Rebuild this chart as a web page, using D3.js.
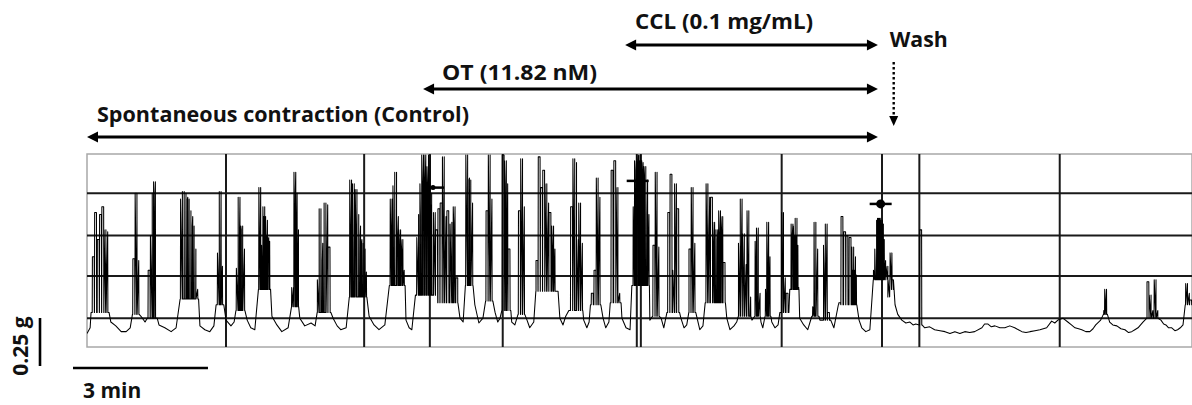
<!DOCTYPE html>
<html>
<head>
<meta charset="utf-8">
<script src="https://cdn.jsdelivr.net/npm/d3@7"></script>
<style>
  body { margin: 0; background: #fff; }
  text { font-family: "Open Sans", sans-serif; font-weight: bold; fill: #111; }
</style>
</head>
<body>
<div class="container"></div>
<script>
// time in minutes, force in g

// resting tension between contractions [t, g]
let baseline = [
  [0, 0.07], [0.07, 0.10], [0.53, 0.13], [0.64, 0.11], [0.76, 0.08], [0.87, 0.08], [0.96, 0.10],
  [1.20, 0.16], [1.29, 0.13], [1.60, 0.115], [1.73, 0.10], [1.87, 0.08], [1.98, 0.10],
  [2.51, 0.11], [2.62, 0.09], [2.73, 0.08], [2.82, 0.11], [3.09, 0.14], [3.20, 0.11], [3.27, 0.13],
  [3.56, 0.14], [3.64, 0.10], [3.73, 0.09], [4.11, 0.16], [4.22, 0.115], [4.33, 0.08], [4.47, 0.10],
  [4.73, 0.15], [4.84, 0.11], [4.98, 0.125], [5.07, 0.11], [5.47, 0.15], [5.56, 0.11], [5.64, 0.09], [5.76, 0.10],
  [6.27, 0.16], [6.38, 0.115], [6.49, 0.09], [6.62, 0.115], [7.09, 0.14], [7.16, 0.10], [7.22, 0.09],
  [8.29, 0.15], [8.36, 0.13], [8.62, 0.22], [8.71, 0.125], [8.80, 0.15], [9.07, 0.18], [9.13, 0.13], [9.18, 0.15],
  [9.44, 0.13], [9.51, 0.115], [9.78, 0.14], [9.84, 0.10], [9.93, 0.13], [10.51, 0.15], [10.58, 0.115], [10.64, 0.16],
  [11.04, 0.14], [11.11, 0.10], [11.16, 0.13], [11.47, 0.15], [11.53, 0.10], [11.60, 0.13],
  [11.89, 0.15], [11.98, 0.10], [12.07, 0.09], [12.51, 0.14], [12.76, 0.15], [12.82, 0.10],
  [13.20, 0.15], [13.27, 0.10], [13.33, 0.115], [13.56, 0.15], [13.62, 0.09], [13.69, 0.11],
  [14.22, 0.15], [14.29, 0.09], [14.38, 0.11], [14.44, 0.13], [14.78, 0.14], [14.98, 0.13], [15.02, 0.10],
  [15.22, 0.13], [15.29, 0.10], [15.36, 0.115], [15.84, 0.15], [15.93, 0.115], [16.02, 0.09],
  [16.29, 0.14], [16.53, 0.14], [16.60, 0.10], [17.16, 0.14], [17.22, 0.10], [17.31, 0.08], [17.40, 0.09],
  [17.96, 0.22], [18.02, 0.17], [18.11, 0.14], [18.20, 0.125], [18.29, 0.13], [18.36, 0.115], [18.42, 0.12],
  [18.62, 0.10], [18.73, 0.105], [18.84, 0.09], [18.96, 0.085], [19.07, 0.08], [19.18, 0.07], [19.29, 0.08],
  [19.40, 0.07], [19.51, 0.08], [19.62, 0.075], [19.73, 0.08], [19.89, 0.10], [19.95, 0.12],
  [20.02, 0.12], [20.10, 0.105], [20.18, 0.11], [20.29, 0.10], [20.40, 0.10], [20.51, 0.11], [20.62, 0.10],
  [20.70, 0.09], [20.78, 0.08], [20.87, 0.075], [20.96, 0.08], [21.07, 0.085], [21.18, 0.09],
  [21.33, 0.10], [21.44, 0.135], [21.51, 0.125], [21.58, 0.14], [21.69, 0.15], [21.80, 0.13], [21.88, 0.115],
  [21.96, 0.10], [22.04, 0.095], [22.11, 0.09], [22.20, 0.08], [22.29, 0.08], [22.36, 0.095], [22.42, 0.115],
  [22.53, 0.14], [22.73, 0.13], [22.80, 0.115], [22.89, 0.11], [22.98, 0.095], [23.07, 0.09], [23.15, 0.075],
  [23.22, 0.08], [23.29, 0.09], [23.36, 0.10], [23.47, 0.13], [23.87, 0.14], [23.93, 0.12], [23.98, 0.115],
  [24.04, 0.10], [24.11, 0.10], [24.18, 0.085], [24.24, 0.09], [24.30, 0.10], [24.36, 0.115]
]

// contraction bursts [start, end, trough level between spikes]
let bursts = [
  [0.09, 0.49, 0.18], [1.01, 1.16, 0.17], [1.34, 1.56, 0.15], [2.07, 2.48, 0.25], [2.87, 3.04, 0.22],
  [3.31, 3.51, 0.19], [3.81, 4.08, 0.30], [4.56, 4.70, 0.21], [5.12, 5.42, 0.18], [5.83, 6.22, 0.26],
  [6.72, 7.07, 0.32], [7.30, 7.80, 0.27], [7.80, 8.24, 0.23], [8.41, 8.58, 0.32], [8.86, 9.02, 0.24],
  [9.22, 9.42, 0.19], [9.58, 9.73, 0.17], [9.98, 10.47, 0.29], [10.71, 11.02, 0.19], [11.19, 11.42, 0.22],
  [11.63, 11.87, 0.23], [12.11, 12.50, 0.32], [12.57, 12.72, 0.16], [12.89, 13.17, 0.18], [13.38, 13.53, 0.18],
  [13.74, 14.19, 0.23], [14.48, 14.74, 0.16], [14.84, 14.96, 0.16], [15.07, 15.20, 0.16], [15.40, 15.60, 0.18],
  [15.62, 15.82, 0.30], [16.11, 16.27, 0.16], [16.37, 16.51, 0.14], [16.70, 17.11, 0.22], [17.48, 17.91, 0.35],
  [18.50, 18.56, 0.115], [22.59, 22.68, 0.17], [23.56, 23.80, 0.15], [24.41, 24.56, 0.22]
]

// individual twitches [t, peak g]
let spikes = [
  [0.14, 0.47], [0.19, 0.70], [0.25, 0.56], [0.30, 0.69], [0.35, 0.73], [0.40, 0.61], [0.44, 0.60],
  [1.04, 0.46], [1.09, 0.80], [1.13, 0.45],
  [1.38, 0.40], [1.43, 0.58], [1.47, 0.80], [1.50, 0.86],
  [2.10, 0.77], [2.14, 0.81], [2.18, 0.80], [2.22, 0.78], [2.25, 0.77], [2.29, 0.71], [2.33, 0.68], [2.36, 0.63], [2.40, 0.51], [2.44, 0.30],
  [2.92, 0.49], [2.96, 0.81], [2.99, 0.42],
  [3.34, 0.41], [3.38, 0.78], [3.41, 0.61], [3.44, 0.63], [3.48, 0.51],
  [3.84, 0.83], [3.87, 0.39], [3.90, 0.53], [3.93, 0.73], [3.95, 0.68], [3.97, 0.58], [3.99, 0.66], [4.02, 0.57], [4.04, 0.55],
  [4.57, 0.31], [4.62, 0.91], [4.65, 0.80], [4.68, 0.61],
  [5.14, 0.35], [5.18, 0.72], [5.22, 0.54], [5.25, 0.45], [5.29, 0.75], [5.33, 0.74], [5.38, 0.52],
  [5.86, 0.87], [5.89, 0.51], [5.92, 0.85], [5.96, 0.58], [5.98, 0.82], [6.02, 0.69], [6.06, 0.63], [6.09, 0.56], [6.12, 0.54], [6.16, 0.51], [6.19, 0.39],
  [6.76, 0.77], [6.79, 0.61], [6.82, 0.84], [6.86, 0.91], [6.90, 0.68], [6.92, 0.56], [6.95, 0.61], [6.98, 0.48], [7.00, 0.56], [7.03, 0.40],
  [7.35, 0.57], [7.39, 0.69], [7.42, 0.85], [7.46, 1.0], [7.48, 0.82], [7.51, 1.0], [7.53, 0.77], [7.56, 0.94], [7.58, 0.79], [7.61, 1.0], [7.63, 0.74], [7.64, 0.80], [7.68, 0.68], [7.72, 0.70], [7.77, 0.61],
  [7.82, 0.72], [7.87, 0.75], [7.92, 0.99], [7.96, 0.68], [8.02, 0.71], [8.09, 0.64], [8.13, 0.65], [8.16, 0.73], [8.22, 0.36],
  [8.44, 1.0], [8.48, 0.88], [8.51, 0.87], [8.55, 0.75],
  [8.89, 0.71], [8.94, 1.0], [8.98, 0.77],
  [9.25, 1.0], [9.30, 0.97], [9.33, 0.85], [9.38, 0.51],
  [9.61, 0.71], [9.66, 0.98], [9.70, 0.73],
  [10.00, 0.45], [10.05, 0.99], [10.10, 0.83], [10.15, 0.92], [10.20, 0.85], [10.24, 0.75], [10.29, 0.70], [10.35, 0.63], [10.38, 0.51],
  [10.77, 0.73], [10.82, 0.98], [10.86, 0.96], [10.90, 0.56], [10.95, 0.75], [10.99, 0.54],
  [11.23, 0.28], [11.29, 0.40], [11.34, 0.88], [11.38, 0.78],
  [11.67, 0.92], [11.73, 0.97], [11.78, 0.83], [11.82, 0.28],
  [12.16, 0.73], [12.19, 0.97], [12.22, 0.92], [12.24, 1.0], [12.27, 0.95], [12.29, 1.0], [12.31, 0.97], [12.34, 0.96], [12.37, 0.90], [12.40, 0.94], [12.44, 0.87], [12.47, 0.69],
  [12.60, 0.53], [12.65, 0.91], [12.69, 0.52],
  [12.93, 0.70], [12.98, 0.90], [13.04, 0.40], [13.08, 0.85], [13.13, 0.72],
  [13.40, 0.51], [13.45, 0.83], [13.49, 0.54],
  [13.78, 0.85], [13.82, 0.78], [13.88, 0.78], [13.93, 0.65], [13.96, 0.56], [14.00, 0.61], [14.03, 0.56], [14.06, 0.71], [14.09, 0.58], [14.11, 0.68], [14.16, 0.44],
  [14.50, 0.54], [14.54, 0.77], [14.59, 0.59], [14.63, 0.43], [14.69, 0.71], [14.73, 0.26],
  [14.87, 0.55], [14.90, 0.62], [14.94, 0.28],
  [15.10, 0.30], [15.13, 0.65], [15.16, 0.47],
  [15.46, 0.70], [15.50, 0.36], [15.56, 0.28],
  [15.67, 0.64], [15.69, 0.56], [15.72, 0.63], [15.74, 0.58], [15.76, 0.67], [15.78, 0.53], [15.80, 0.31],
  [16.15, 0.21], [16.18, 0.65], [16.22, 0.51],
  [16.39, 0.53], [16.43, 0.64], [16.48, 0.18],
  [16.73, 0.23], [16.78, 0.68], [16.84, 0.60], [16.89, 0.58], [16.96, 0.57], [17.02, 0.52], [17.04, 0.40], [17.06, 0.47], [17.08, 0.375],
  [17.50, 0.40], [17.53, 0.51], [17.57, 0.66], [17.59, 0.67], [17.61, 0.67], [17.63, 0.66], [17.66, 0.66], [17.68, 0.64], [17.70, 0.56], [17.73, 0.45], [17.78, 0.42], [17.82, 0.26], [17.87, 0.49], [17.90, 0.30],
  [18.53, 0.61],
  [22.62, 0.19], [22.64, 0.30],
  [23.58, 0.34], [23.63, 0.27], [23.67, 0.19], [23.74, 0.35], [23.78, 0.19],
  [24.44, 0.33], [24.48, 0.28], [24.53, 0.245]
]

// chart paper lines and event marks
let gridTimes = [3.09, 6.16, 7.62, 9.24, 12.22, 12.31, 15.44, 17.67, 18.50, 21.62]
let gridForces = [0.15, 0.37, 0.58, 0.80]
let markers = [[7.69, 0.83], [12.24, 0.865], [17.64, 0.745]]

// treatment periods
let periodLabels = ['CCL (0.1 mg/mL)', 'OT (11.82 nM)', 'Spontaneous contraction (Control)']
let periodStarts = [11.96, 7.47, 0]
let periodEnds = [17.58, 17.58, 17.58]
let washTime = 17.93

let tMax = 24.56, gMax = 1.005

let x = d3.scaleLinear().domain([0, tMax]).range([87, 1192])
let y = d3.scaleLinear().domain([0, gMax]).range([347, 154])

let svg = d3.select('.container').append('svg')
    .attr('width', 1192)
    .attr('height', 405)

svg.append('defs').append('clipPath').attr('id', 'box')
  .append('rect')
    .attr('x', x(0)).attr('y', y(gMax))
    .attr('width', x(tMax) - x(0)).attr('height', y(0) - y(gMax))

// frame
svg.append('rect')
    .attr('x', x(0)).attr('y', y(gMax))
    .attr('width', x(tMax) - x(0)).attr('height', y(0) - y(gMax))
    .attr('fill', 'none')
    .attr('stroke', '#a8a8a8')
    .attr('stroke-width', 1.5)

svg.selectAll('.hgrid').data(gridForces)
  .enter().append('line')
    .attr('x1', x(0)).attr('x2', x(tMax))
    .attr('y1', d => y(d)).attr('y2', d => y(d))
    .attr('stroke', '#1a1a1a')
    .attr('stroke-width', 2)

svg.selectAll('.vgrid').data(gridTimes)
  .enter().append('line')
    .attr('x1', d => x(d)).attr('x2', d => x(d))
    .attr('y1', y(gMax)).attr('y2', y(0))
    .attr('stroke', '#1a1a1a')
    .attr('stroke-width', 2)

// build the trace: baseline between bursts, narrow twitches inside them
let pts = baseline.slice()
bursts.forEach(([t0, t1, floor]) => {
  pts.push([t0, floor])
  spikes.filter(s => s[0] >= t0 && s[0] <= t1).forEach(([t, peak]) => {
    pts.push([t - 0.024, floor], [t - 0.02, peak], [t + 0.02, peak], [t + 0.024, floor])
  })
  pts.push([t1, floor])
})
pts.sort((a, b) => a[0] - b[0])

let trace = d3.line()
    .x(d => x(d[0]))
    .y(d => y(d[1]))

svg.append('path')
    .attr('d', trace(pts))
    .attr('clip-path', 'url(#box)')
    .attr('fill', 'none')
    .attr('stroke', '#000')
    .attr('stroke-width', 1.05)
    .attr('stroke-linejoin', 'round')

// event marks on the trace
let mk = svg.selectAll('.mark').data(markers).enter().append('g')
mk.append('line')
    .attr('x1', d => x(d[0]) - 11).attr('x2', d => x(d[0]) + 11)
    .attr('y1', d => y(d[1])).attr('y2', d => y(d[1]))
    .attr('stroke', '#000').attr('stroke-width', 2.5)
mk.append('circle')
    .attr('cx', d => x(d[0])).attr('cy', d => y(d[1]))
    .attr('r', (d, i) => i == markers.length - 1 ? 4.5 : 2.5)
    .attr('fill', '#000')

// period arrows
let rowY = [45, 89, 137]
let labelY = [29, 80, 122]
let labelDx = [10, 19, 10]
let labelW = [178, 155, 372]

function head(xTip, yy, dir) {
  return `M${xTip},${yy} L${xTip - dir * 11},${yy - 5.5} L${xTip - dir * 11},${yy + 5.5} Z`
}

periodLabels.forEach((label, i) => {
  let x1 = x(periodStarts[i]), x2 = x(periodEnds[i]), yy = rowY[i]
  svg.append('line')
      .attr('x1', x1 + 5).attr('x2', x2 - 5)
      .attr('y1', yy).attr('y2', yy)
      .attr('stroke', '#000').attr('stroke-width', 2.8)
  svg.append('path').attr('d', head(x1, yy, -1)).attr('fill', '#000')
  svg.append('path').attr('d', head(x2, yy, 1)).attr('fill', '#000')
  svg.append('text')
      .attr('x', x1 + labelDx[i]).attr('y', labelY[i])
      .attr('font-size', 21)
      .attr('textLength', labelW[i])
      .attr('lengthAdjust', 'spacingAndGlyphs')
      .text(label)
})

// wash
svg.append('text')
    .attr('x', x(washTime) - 4).attr('y', 47)
    .attr('font-size', 21)
    .attr('textLength', 58)
    .attr('lengthAdjust', 'spacingAndGlyphs')
    .text('Wash')
svg.append('line')
    .attr('x1', x(washTime)).attr('x2', x(washTime))
    .attr('y1', 62).attr('y2', 116)
    .attr('stroke', '#000').attr('stroke-width', 2.4)
    .attr('stroke-dasharray', '2.5,2.5')
svg.append('path')
    .attr('d', `M${x(washTime)},126 L${x(washTime) - 4.5},116 L${x(washTime) + 4.5},116 Z`)
    .attr('fill', '#000')

// scale bars
let barG = 0.25, barMin = 3
svg.append('line')
    .attr('x1', 40).attr('x2', 40)
    .attr('y1', 366).attr('y2', 366 - (y(0) - y(barG)))
    .attr('stroke', '#000').attr('stroke-width', 2.6)
svg.append('text')
    .attr('transform', 'translate(28,346) rotate(-90)')
    .attr('text-anchor', 'middle')
    .attr('font-size', 21)
    .text(barG + ' g')

svg.append('line')
    .attr('x1', 73).attr('x2', 73 + x(barMin) - x(0))
    .attr('y1', 368).attr('y2', 368)
    .attr('stroke', '#000').attr('stroke-width', 2.6)
svg.append('text')
    .attr('x', 83).attr('y', 398)
    .attr('font-size', 21)
    .text(barMin + ' min')
</script>
</body>
</html>
